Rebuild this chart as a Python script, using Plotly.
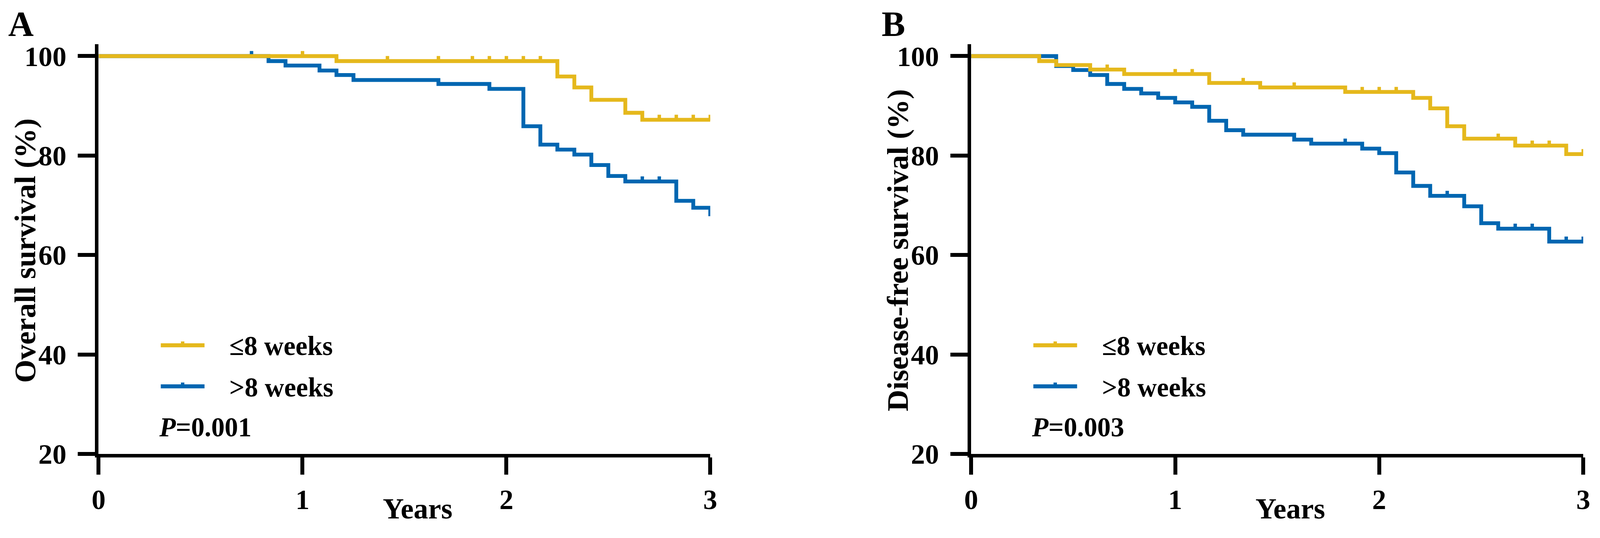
import plotly.graph_objects as go

# Kaplan-Meier steps: month of each drop and survival (%) after the drop
os_short_months = [0, 14, 27, 28, 29, 31, 32, 36]
os_short_surv = [100, 99.0, 95.9, 93.7, 91.2, 88.6, 87.2, 87.2]
os_short_censor = [12, 17, 20, 22, 23, 24, 25, 26, 33, 34, 35, 36]

os_long_months = [0, 10, 11, 13, 14, 15, 20, 23, 25, 26, 27, 28, 29, 30, 31, 34, 35, 36]
os_long_surv = [100, 99.0, 98.1, 97.1, 96.2, 95.2, 94.4, 93.4, 85.9, 82.2, 81.2, 80.2,
                78.1, 75.9, 74.8, 70.9, 69.5, 67.8]
os_long_censor = [9, 32, 33]

dfs_short_months = [0, 4, 5, 7, 9, 14, 17, 22, 26, 27, 28, 29, 32, 35, 36]
dfs_short_surv = [100, 99.0, 98.2, 97.3, 96.4, 94.6, 93.7, 92.8, 91.6, 89.5, 85.9, 83.4,
                  82.0, 80.3, 80.3]
dfs_short_censor = [8, 12, 13, 16, 19, 23, 24, 25, 31, 33, 34, 36]

dfs_long_months = [0, 5, 6, 7, 8, 9, 10, 11, 12, 13, 14, 15, 16, 19, 20, 23, 24, 25, 26,
                   27, 29, 30, 31, 34, 36]
dfs_long_surv = [100, 98.0, 97.2, 96.2, 94.4, 93.4, 92.5, 91.6, 90.7, 89.8, 87.0, 85.1,
                 84.2, 83.2, 82.4, 81.4, 80.5, 76.6, 73.9, 71.9, 69.8, 66.4, 65.3, 62.7, 62.7]
dfs_long_censor = [22, 28, 32, 33, 35, 36]

group_labels = ["≤8 weeks", ">8 weeks"]
p_values = ["0.001", "0.003"]
y_titles = ["Overall survival (%)", "Disease-free survival (%)"]
panel_letters = ["A", "B"]
x_ticks = [0, 1, 2, 3]
y_ticks = [20, 40, 60, 80, 100]

# the snapshot comes out ~1.8% larger than the css page and the body keeps
# its 8px margin, so layout positions (given in snapshot pixels) are mapped back
PAGE_W, PAGE_H, BODY, ZOOM = 4161, 1376, 8, 1.018
W = round(PAGE_W / ZOOM - 2 * BODY)
H = round(PAGE_H / ZOOM - 2 * BODY)
YELLOW = "#E5B81C"
BLUE = "#0066B1"
FONT = "Liberation Serif, Times New Roman, serif"


def s(v):
    return v / ZOOM


def px(x):
    return (x / ZOOM - BODY) / W


def py(y):
    return 1 - (y / ZOOM - BODY) / H


def surv_at(months, surv, t):
    val = surv[0]
    for m, sv in zip(months, surv):
        if m <= t:
            val = sv
    return val


LINE_W = s(10)
CENSOR_LIFT = 0.42  # lift of censor tick in y units so it sits on top of the line

fig = go.Figure()

panels = [
    dict(xa="x", ya="y", x0=257, x1=1851,
         curves=[(os_long_months, os_long_surv, os_long_censor, BLUE),
                 (os_short_months, os_short_surv, os_short_censor, YELLOW)]),
    dict(xa="x2", ya="y2", x0=2531, x1=4126,
         curves=[(dfs_long_months, dfs_long_surv, dfs_long_censor, BLUE),
                 (dfs_short_months, dfs_short_surv, dfs_short_censor, YELLOW)]),
]

Y_TOP, Y_BOT = 115, 1182

for i, p in enumerate(panels):
    for months, surv, censor, color in p["curves"]:
        fig.add_trace(go.Scatter(
            x=[m / 12 for m in months], y=surv, xaxis=p["xa"], yaxis=p["ya"],
            mode="lines", line=dict(color=color, width=LINE_W, shape="hv"),
            showlegend=False, hoverinfo="skip"))
        fig.add_trace(go.Scatter(
            x=[c / 12 for c in censor],
            y=[surv_at(months, surv, c) + CENSOR_LIFT for c in censor],
            xaxis=p["xa"], yaxis=p["ya"], mode="markers",
            marker=dict(symbol="line-ns", size=s(11), color=color,
                        line=dict(color=color, width=s(9))),
            showlegend=False, hoverinfo="skip"))

    sfx = "" if i == 0 else "2"
    axis_common = dict(showline=True, linewidth=s(9), linecolor="black", ticks="outside",
                       ticklen=s(45), tickwidth=s(10), tickcolor="black", showgrid=False,
                       zeroline=False, automargin=False, ticklabeloverflow="allow",
                       tickfont=dict(family=FONT, size=s(73), color="black", weight="bold"))
    fig.update_layout(**{
        "xaxis" + sfx: dict(domain=[px(p["x0"]), px(p["x1"])], range=[0, 3],
                            tickvals=x_ticks, anchor="y" + sfx, ticklabelstandoff=2,
                            **axis_common),
        "yaxis" + sfx: dict(domain=[py(Y_BOT), py(Y_TOP)], range=[20, 102.4],
                            tickvals=y_ticks, anchor="x" + sfx, ticklabelstandoff=15,
                            **axis_common),
    })

    dx = p["x0"]
    span = p["x1"] - p["x0"]

    def dom(xpx):
        return (xpx - dx) / span

    xd = p["xa"] + " domain"
    # legend samples
    for j, (ly, color) in enumerate([(899, YELLOW), (1006, BLUE)]):
        fig.add_shape(type="line", xref=xd, yref="paper", x0=dom(dx + 162), x1=dom(dx + 276),
                      y0=py(ly), y1=py(ly), line=dict(color=color, width=s(10.5)))
        fig.add_shape(type="line", xref=xd, yref="paper", x0=dom(dx + 219), x1=dom(dx + 219),
                      y0=py(ly - 4), y1=py(ly - 10), line=dict(color=color, width=s(9)))
    for j, base in enumerate([924, 1031]):
        fig.add_annotation(xref=xd, yref="paper", x=dom(dx + 339), y=py(base - 0.891 * 70 - 1),
                           xanchor="left", yanchor="top", showarrow=False,
                           text="<b>" + group_labels[j] + "</b>",
                           font=dict(family=FONT, size=s(70), color="black"))
    fig.add_annotation(xref=xd, yref="paper", x=dom(dx + 155), y=py(1135 - 0.891 * 70 - 1),
                       xanchor="left", yanchor="top", showarrow=False,
                       text="<b><i>P</i>=" + p_values[i] + "</b>",
                       font=dict(family=FONT, size=s(70), color="black"))
    # x title
    fig.add_annotation(xref=xd, yref="paper", x=dom(dx + 831), y=py(1348 - 0.891 * 76 - 1),
                       xanchor="center", yanchor="top", showarrow=False,
                       text="<b>Years</b>", font=dict(family=FONT, size=s(76), color="black"))
    # y title
    fig.add_annotation(xref="paper", yref="paper", x=px(dx - 191), y=py(652),
                       xanchor="center", yanchor="middle", textangle=-90, showarrow=False,
                       text="<b>" + y_titles[i] + "</b>",
                       font=dict(family=FONT, size=s(78), color="black"))
    # panel letter
    fig.add_annotation(xref="paper", yref="paper", x=px(dx - 203), y=py(92 - 0.891 * 92 - 1),
                       xanchor="center", yanchor="top", showarrow=False,
                       text="<b>" + panel_letters[i] + "</b>",
                       font=dict(family=FONT, size=s(92), color="black"))

fig.update_layout(template="none", width=W, height=H, margin=dict(l=0, r=0, t=0, b=0),
                  plot_bgcolor="white", paper_bgcolor="white")

fig.write_html("out.html")
